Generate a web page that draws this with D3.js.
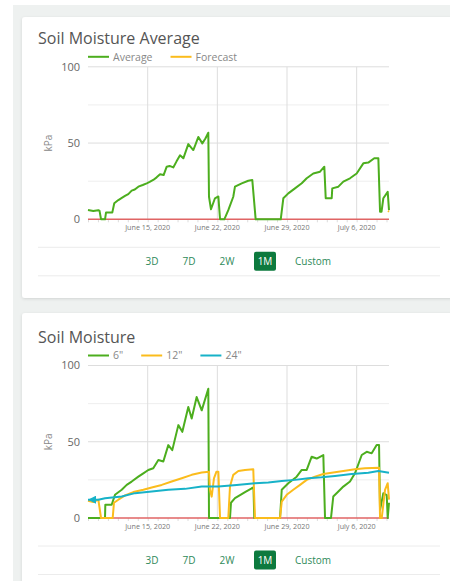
<!DOCTYPE html>
<html>
<head>
<meta charset="utf-8">
<script src="https://cdn.jsdelivr.net/npm/d3@7"></script>
<style>
  body { margin: 0; background: #fff; }
  svg { display: block; }
</style>
</head>
<body>
<svg id="page" width="450" height="581"></svg>
<script>
// days since June 9, 2020 (UTC) and kPa values
var avgDays = [0, 0.53, 1.04, 1.16, 1.31, 1.71, 1.81, 2.44, 2.64, 3.05, 3.4, 3.72, 4.05, 4.39, 4.7, 5.06, 5.5, 5.9, 6.2, 6.56, 6.9, 7.24, 7.6, 7.91, 8.2, 8.57, 8.9, 9.25, 9.58, 9.8, 10.08, 10.58, 10.8, 11.09, 11.49, 11.8, 12.09, 12.16, 12.36, 12.76, 13.1, 13.27, 13.7, 14.1, 14.6, 14.77, 15.45, 16.11, 16.51, 16.85, 19.37, 19.63, 20.13, 20.8, 21.48, 21.98, 22.64, 23.32, 23.75, 23.89, 24.49, 24.55, 25.16, 25.66, 26.33, 27.0, 27.67, 28.17, 28.77, 29.18, 29.35, 29.5, 29.68, 30.12, 30.25];
var avgKpa  = [6.1, 5.4, 6, 5.5, 0, 0, 4.4, 4.4, 10.5, 12.6, 14, 15.3, 16.5, 18.8, 19.5, 21.4, 22.5, 23.6, 24.5, 25.8, 27.5, 29.5, 29, 34.5, 35, 34, 38, 42, 40, 44, 49.3, 45.4, 49, 54, 49.8, 53, 56.8, 14.8, 6.6, 13.8, 15, 0, 0, 6, 14.8, 21.4, 23.6, 25.3, 25.8, 0, 0, 13.8, 17, 20.3, 23.6, 26.9, 30, 31.2, 34.5, 13.8, 13.8, 20.3, 21.4, 24.7, 26.9, 30, 36.7, 37.2, 40, 40, 5, 5, 13.8, 18, 6];
var fcDays = [30.15, 30.25];
var fcKpa  = [5.5, 5];

var s6Days = [0, 1.71, 1.74, 2.38, 2.71, 3.39, 3.89, 4.39, 5.06, 5.56, 6.06, 6.56, 7.07, 7.57, 8.07, 8.47, 9.08, 9.48, 10.08, 10.42, 10.92, 11.43, 12.09, 12.16, 14.27, 14.37, 14.77, 15.28, 15.78, 16.45, 16.63, 16.71, 19.3, 19.47, 20.13, 20.97, 21.48, 21.98, 22.48, 22.98, 23.65, 23.82, 24.42, 24.65, 25.16, 25.66, 26.33, 26.83, 27.51, 28.01, 28.51, 29.01, 29.25, 29.35, 29.52, 29.68, 30.02, 30.12, 30.25];
var s6Kpa  = [0, 0, 8.7, 8.7, 15.2, 18.5, 21.7, 23.9, 27.1, 29.3, 31.5, 32.6, 38, 37, 47.8, 44.5, 60.9, 56.5, 72.8, 65.2, 79.3, 70.6, 84.8, 0, 0, 10, 13, 15, 17, 19.5, 20, 0, 0, 18.5, 22.8, 27.1, 31.5, 31.5, 40.2, 39, 41.3, 0, 0, 14.1, 17.4, 20.6, 23.9, 29.3, 41.3, 43.4, 42.4, 47.8, 47.8, 5.4, 10.8, 16.3, 15, 0, 10];

var s12Days = [0, 0.53, 1.04, 1.31, 2.48, 2.61, 3.05, 3.72, 4.55, 5.56, 6.4, 7.41, 8.41, 9.42, 10.42, 11.43, 12.16, 12.26, 12.43, 12.66, 12.91, 13.1, 13.27, 14.1, 14.27, 14.6, 15.11, 15.78, 16.61, 16.78, 19.3, 19.47, 19.97, 20.63, 21.31, 21.98, 22.81, 23.65, 24.82, 25.83, 26.83, 27.84, 29.25, 29.35, 29.52, 29.85, 30.12, 30.25];
var s12Kpa  = [11.3, 10.5, 12, 0, 0, 10, 12, 14.8, 17, 18.5, 20, 21.7, 23.9, 26.1, 28.3, 29.8, 30.4, 18.5, 14, 26, 30.4, 30.4, 0, 0, 20.6, 28.3, 30.8, 31.5, 32, 0, 0, 10.8, 15.2, 18.5, 21.7, 25, 27.1, 28.9, 30, 31, 32, 32.6, 33, 0, 0, 18.5, 22.8, 12];

var s24Days = [0, 1.04, 1.71, 3.39, 4.72, 6.4, 8.07, 9.75, 11.43, 13.1, 14.94, 16.78, 18.12, 19.47, 20.8, 22.14, 23.48, 24.82, 26.5, 28.17, 29.18, 30.25];
var s24Kpa  = [12, 12, 13, 14.1, 16.3, 17.4, 18.5, 19.1, 20.6, 20.6, 21.7, 22.8, 23.3, 24.3, 25, 26.1, 26.7, 27.6, 28.9, 29.7, 30.8, 29.7];

var yTicks = [0, 50, 100];
var yGrid = [25, 75];
var weekTicks = ["2020-06-15", "2020-06-22", "2020-06-29", "2020-07-06"];
var buttons = ["3D", "7D", "2W", "1M", "Custom"];
var activeButton = "1M";

var FONT = "'Open Sans', 'Noto Sans', sans-serif";
var start = Date.UTC(2020, 5, 9);
function toDate(d) { return new Date(start + d * 864e5); }
function zip(days, vals) { return days.map(function (d, i) { return { t: toDate(d), v: vals[i] }; }); }

var svg = d3.select("#page");
svg.append("rect").attr("x", 13).attr("y", 5).attr("width", 437).attr("height", 576).attr("fill", "#eef1f0");

var defs = svg.append("defs");
var f = defs.append("filter").attr("id", "shadow").attr("x", "-5%").attr("y", "-5%").attr("width", "110%").attr("height", "115%");
f.append("feDropShadow").attr("dx", 0).attr("dy", 1).attr("stdDeviation", 1.5).attr("flood-color", "#000").attr("flood-opacity", 0.12);
defs.append("marker").attr("id", "arrow").attr("viewBox", "0 0 10 10").attr("refX", 10).attr("refY", 5)
  .attr("markerWidth", 4).attr("markerHeight", 4).attr("orient", "auto-start-reverse")
  .append("path").attr("d", "M0,0L10,5L0,10z").attr("fill", "#17b2c8");

var x = d3.scaleUtc().domain([toDate(0), toDate(30.25)]).range([88, 389]);

function card(y0, h, title, legend, series, top) {
  var g = svg.append("g");
  g.append("rect").attr("x", 22).attr("y", y0).attr("width", 440).attr("height", h)
    .attr("rx", 3).attr("fill", "#fff").attr("filter", "url(#shadow)");

  g.append("text").attr("x", 38).attr("y", top - 22.5).attr("fill", "#555")
    .style("font-family", FONT).style("font-size", "16px").text(title);

  var y = d3.scaleLinear().domain([0, 100]).range([top + 152.5, top]);

  // legend
  var lx = 88;
  legend.forEach(function (l) {
    g.append("line").attr("x1", lx).attr("x2", lx + 21).attr("y1", top - 10).attr("y2", top - 10)
      .attr("stroke", l.color).attr("stroke-width", 2);
    var t = g.append("text").attr("x", lx + 25).attr("y", top - 6.3).attr("fill", "#888")
      .style("font-family", FONT).style("font-size", "10.5px").text(l.name);
    lx += 25 + t.node().getComputedTextLength() + 18;
  });

  // grid
  g.selectAll(".hg").data(yGrid).enter().append("line")
    .attr("x1", 88).attr("x2", 389).attr("y1", y).attr("y2", y).attr("stroke", "#eeeeee");
  g.selectAll(".hm").data(yTicks.slice(1)).enter().append("line")
    .attr("x1", 88).attr("x2", 389).attr("y1", y).attr("y2", y).attr("stroke", "#dddddd");
  var wt = weekTicks.map(function (s) { return new Date(s + "T00:00:00Z"); });
  g.selectAll(".vg").data(wt).enter().append("line")
    .attr("x1", x).attr("x2", x).attr("y1", y(100)).attr("y2", y(0)).attr("stroke", "#dddddd");

  // x axis with daily minor ticks
  var xa = g.append("g").attr("transform", "translate(0," + y(0) + ")")
    .call(d3.axisBottom(x).ticks(d3.utcDay.every(1)).tickSize(3).tickFormat(""));
  xa.select(".domain").remove();
  xa.selectAll("line").attr("stroke", "#ddd");
  g.selectAll(".xl").data(wt).enter().append("text")
    .attr("x", x).attr("y", y(0) + 11).attr("text-anchor", "middle").attr("fill", "#777")
    .style("font-family", FONT).style("font-size", "7.2px")
    .text(d3.utcFormat("%B %-d, %Y"));

  // y axis labels
  g.selectAll(".yl").data(yTicks).enter().append("text")
    .attr("x", 80).attr("y", y).attr("dy", "0.35em").attr("text-anchor", "end").attr("fill", "#666")
    .style("font-family", FONT).style("font-size", "11px").text(function (d) { return d; });
  g.append("text").attr("transform", "translate(52," + y(50) + ") rotate(-90)")
    .attr("text-anchor", "middle").attr("fill", "#888")
    .style("font-family", FONT).style("font-size", "10px").text("kPa");

  // zero line
  g.append("line").attr("x1", 88).attr("x2", 389).attr("y1", y(0)).attr("y2", y(0))
    .attr("stroke", "#e06464").attr("stroke-width", 1.5);

  var line = d3.line().x(function (d) { return x(d.t); }).y(function (d) { return y(d.v); });
  series.forEach(function (s) {
    var p = g.append("path").datum(s.data).attr("d", line).attr("fill", "none")
      .attr("stroke", s.color).attr("stroke-width", 2).attr("stroke-linejoin", "round");
    if (s.marker) p.attr("marker-start", "url(#arrow)");
  });

  // range buttons
  var by = top + 194.5;
  g.append("line").attr("x1", 38).attr("x2", 440).attr("y1", by - 14).attr("y2", by - 14).attr("stroke", "#ececec");
  g.append("line").attr("x1", 38).attr("x2", 440).attr("y1", by + 14.5).attr("y2", by + 14.5).attr("stroke", "#ececec");
  var bx = [152, 189, 227, 265, 313];
  buttons.forEach(function (b, i) {
    if (b === activeButton) {
      g.append("rect").attr("x", bx[i] - 11).attr("y", by - 9.5).attr("width", 22).attr("height", 19)
        .attr("rx", 2).attr("fill", "#0d7a3e");
    }
    g.append("text").attr("x", bx[i]).attr("y", by).attr("dy", "0.35em").attr("text-anchor", "middle")
      .attr("fill", b === activeButton ? "#fff" : "#2f8a5a")
      .style("font-family", FONT).style("font-size", "10px").text(b);
  });
}

card(17, 281, "Soil Moisture Average",
  [{ name: "Average", color: "#4cae1e" }, { name: "Forecast", color: "#fbbc1c" }],
  [{ data: zip(avgDays, avgKpa), color: "#4cae1e" }, { data: zip(fcDays, fcKpa), color: "#fbbc1c" }],
  66.8);

card(313, 280, "Soil Moisture",
  [{ name: "6\"", color: "#4cae1e" }, { name: "12\"", color: "#fbbc1c" }, { name: "24\"", color: "#17b2c8" }],
  [{ data: zip(s6Days, s6Kpa), color: "#4cae1e" },
   { data: zip(s12Days, s12Kpa), color: "#fbbc1c" },
   { data: zip(s24Days, s24Kpa), color: "#17b2c8", marker: true }],
  365.5);
</script>
</body>
</html>
